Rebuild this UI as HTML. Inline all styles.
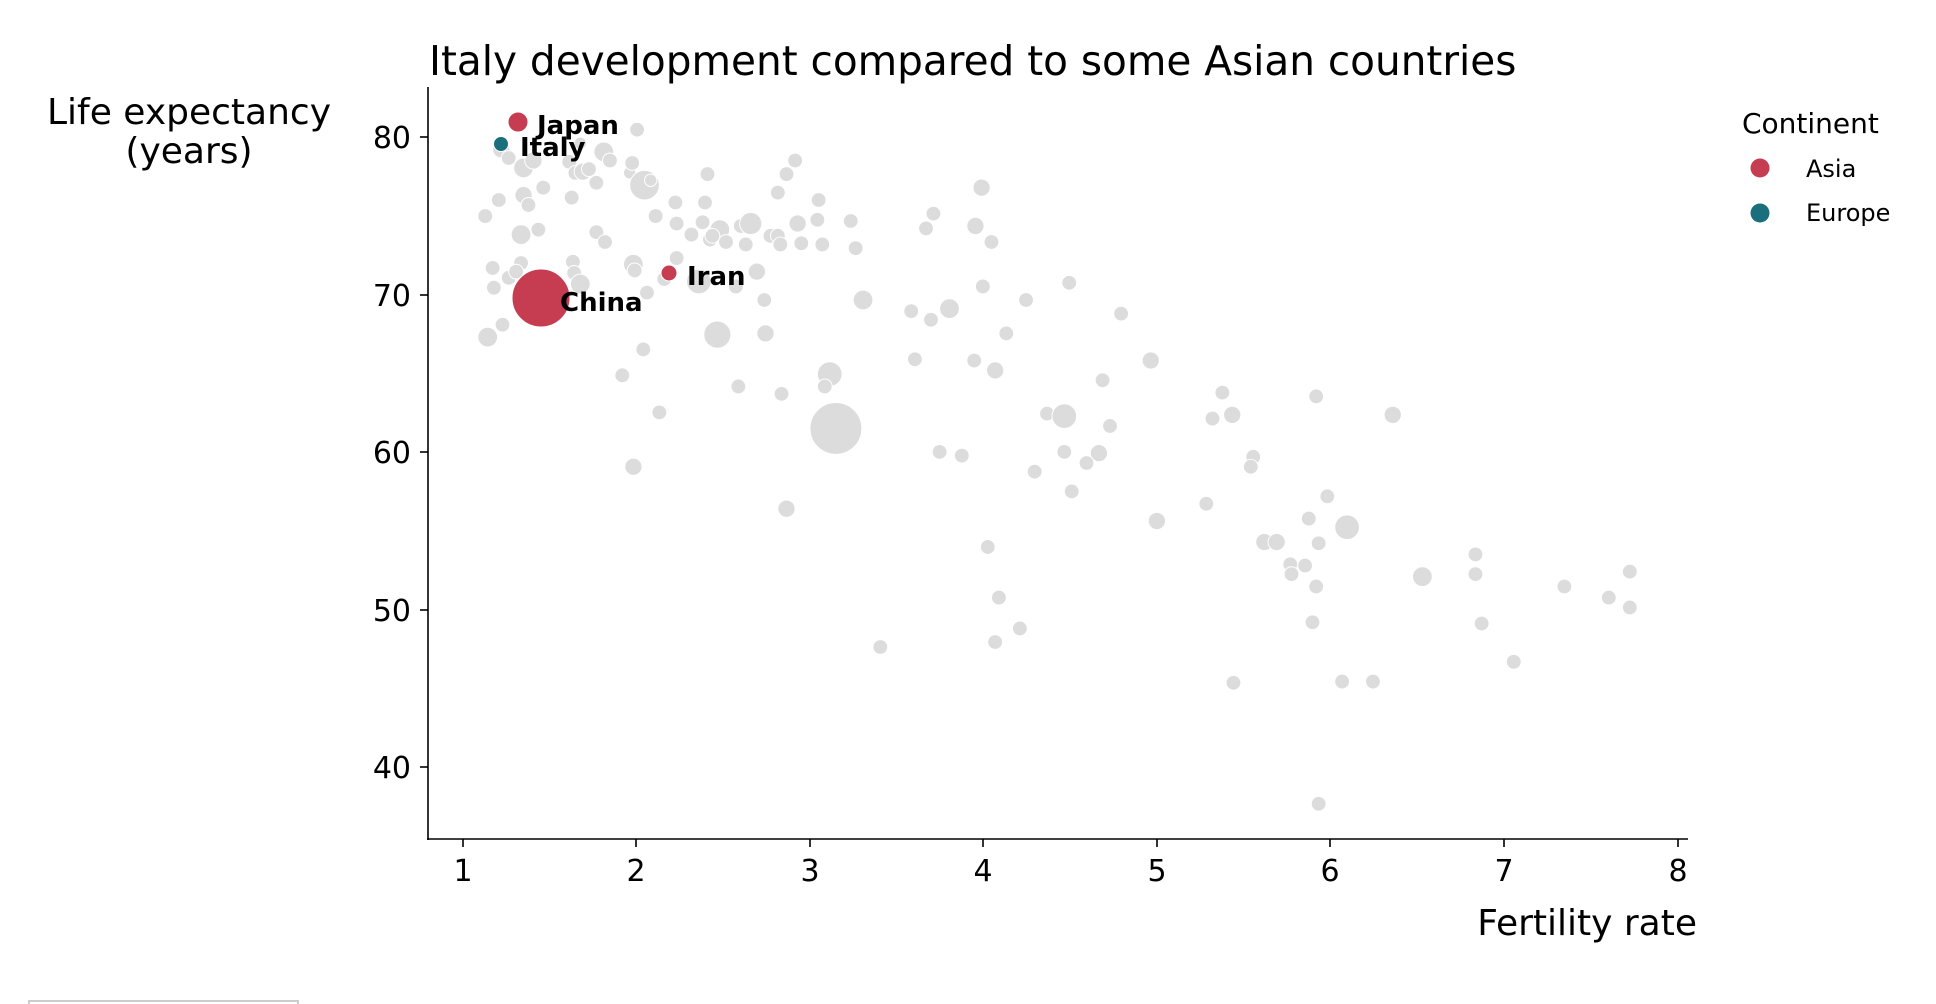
<!DOCTYPE html>
<html><head><meta charset="utf-8"><style>
html,body{margin:0;padding:0;background:#fff;width:1936px;height:1004px;overflow:hidden}
svg{display:block;font-family:"DejaVu Sans","Liberation Sans",sans-serif}
</style></head><body>
<svg width="1936" height="1004" viewBox="0 0 1936 1004">
<text x="429" y="75" font-size="40.6" fill="#000">Italy development compared to some Asian countries</text>
<text x="189" y="124" font-size="36" text-anchor="middle">Life expectancy</text>
<text x="189" y="163" font-size="36" text-anchor="middle">(years)</text>
<g fill="#dcdcdc" stroke="#fff" stroke-width="0.8" transform="scale(1.2347)">
<circle cx="516" cy="105" r="6"/><circle cx="406" cy="121" r="7"/><circle cx="412" cy="128" r="6"/><circle cx="424" cy="136" r="8"/><circle cx="432" cy="130" r="7"/><circle cx="470" cy="116" r="5"/><circle cx="489" cy="123" r="8"/><circle cx="494" cy="130" r="6"/><circle cx="461" cy="131" r="6"/><circle cx="466" cy="140" r="6"/><circle cx="472" cy="139" r="7"/><circle cx="477" cy="137" r="6"/><circle cx="483" cy="148" r="6"/><circle cx="510" cy="140" r="5"/><circle cx="512" cy="132" r="6"/><circle cx="522" cy="150" r="12"/><circle cx="527" cy="146" r="5"/><circle cx="573" cy="141" r="6"/><circle cx="644" cy="130" r="6"/><circle cx="637" cy="141" r="6"/><circle cx="404" cy="162" r="6"/><circle cx="424" cy="158" r="7"/><circle cx="428" cy="166" r="6"/><circle cx="440" cy="152" r="6"/><circle cx="463" cy="160" r="6"/><circle cx="547" cy="164" r="6"/><circle cx="571" cy="164" r="6"/><circle cx="630" cy="156" r="6"/><circle cx="663" cy="162" r="6"/><circle cx="795" cy="152" r="7"/><circle cx="393" cy="175" r="6"/><circle cx="531" cy="175" r="6"/><circle cx="548" cy="181" r="6"/><circle cx="569" cy="180" r="6"/><circle cx="583" cy="186" r="8"/><circle cx="600" cy="183" r="6"/><circle cx="608" cy="181" r="9"/><circle cx="646" cy="181" r="7"/><circle cx="662" cy="178" r="6"/><circle cx="689" cy="179" r="6"/><circle cx="756" cy="173" r="6"/><circle cx="750" cy="185" r="6"/><circle cx="790" cy="183" r="7"/><circle cx="803" cy="196" r="6"/><circle cx="422" cy="190" r="8"/><circle cx="436" cy="186" r="6"/><circle cx="483" cy="188" r="6"/><circle cx="490" cy="196" r="6"/><circle cx="560" cy="190" r="6"/><circle cx="575" cy="194" r="6"/><circle cx="577" cy="191" r="6"/><circle cx="588" cy="196" r="6"/><circle cx="604" cy="198" r="6"/><circle cx="624" cy="191" r="6"/><circle cx="630" cy="191" r="6"/><circle cx="632" cy="198" r="6"/><circle cx="649" cy="197" r="6"/><circle cx="666" cy="198" r="6"/><circle cx="693" cy="201" r="6"/><circle cx="548" cy="209" r="6"/><circle cx="513" cy="214" r="8"/><circle cx="464" cy="212" r="6"/><circle cx="422" cy="213" r="6"/><circle cx="399" cy="217" r="6"/><circle cx="412" cy="225" r="6"/><circle cx="418" cy="220" r="6"/><circle cx="465" cy="221" r="6"/><circle cx="470" cy="230" r="8"/><circle cx="400" cy="233" r="6"/><circle cx="538" cy="226" r="6"/><circle cx="514" cy="219" r="6"/><circle cx="566" cy="228" r="10"/><circle cx="524" cy="237" r="6"/><circle cx="613" cy="220" r="7"/><circle cx="596" cy="232" r="6"/><circle cx="619" cy="243" r="6"/><circle cx="699" cy="243" r="8"/><circle cx="796" cy="232" r="6"/><circle cx="866" cy="229" r="6"/><circle cx="407" cy="263" r="6"/><circle cx="395" cy="273" r="8"/><circle cx="581" cy="271" r="11"/><circle cx="620" cy="270" r="7"/><circle cx="738" cy="252" r="6"/><circle cx="754" cy="259" r="6"/><circle cx="769" cy="250" r="8"/><circle cx="831" cy="243" r="6"/><circle cx="908" cy="254" r="6"/><circle cx="815" cy="270" r="6"/><circle cx="521" cy="283" r="6"/><circle cx="672" cy="303" r="10"/><circle cx="668" cy="313" r="6"/><circle cx="598" cy="313" r="6"/><circle cx="633" cy="319" r="6"/><circle cx="741" cy="291" r="6"/><circle cx="789" cy="292" r="6"/><circle cx="806" cy="300" r="7"/><circle cx="893" cy="308" r="6"/><circle cx="932" cy="292" r="7"/><circle cx="504" cy="304" r="6"/><circle cx="534" cy="334" r="6"/><circle cx="677" cy="347" r="21"/><circle cx="761" cy="366" r="6"/><circle cx="779" cy="369" r="6"/><circle cx="848" cy="335" r="6"/><circle cx="862" cy="337" r="10"/><circle cx="899" cy="345" r="6"/><circle cx="862" cy="366" r="6"/><circle cx="890" cy="367" r="7"/><circle cx="880" cy="375" r="6"/><circle cx="838" cy="382" r="6"/><circle cx="868" cy="398" r="6"/><circle cx="513" cy="378" r="7"/><circle cx="637" cy="412" r="7"/><circle cx="937" cy="422" r="7"/><circle cx="977" cy="408" r="6"/><circle cx="990" cy="318" r="6"/><circle cx="982" cy="339" r="6"/><circle cx="998" cy="336" r="7"/><circle cx="1015" cy="370" r="6"/><circle cx="1013" cy="378" r="6"/><circle cx="1066" cy="321" r="6"/><circle cx="1128" cy="336" r="7"/><circle cx="1075" cy="402" r="6"/><circle cx="1060" cy="420" r="6"/><circle cx="1091" cy="427" r="10"/><circle cx="1024" cy="439" r="7"/><circle cx="1034" cy="439" r="7"/><circle cx="1068" cy="440" r="6"/><circle cx="1045" cy="457" r="6"/><circle cx="1057" cy="458" r="6"/><circle cx="1046" cy="465" r="6"/><circle cx="1066" cy="475" r="6"/><circle cx="1063" cy="504" r="6"/><circle cx="800" cy="443" r="6"/><circle cx="809" cy="484" r="6"/><circle cx="806" cy="520" r="6"/><circle cx="826" cy="509" r="6"/><circle cx="713" cy="524" r="6"/><circle cx="999" cy="553" r="6"/><circle cx="1087" cy="552" r="6"/><circle cx="1112" cy="552" r="6"/><circle cx="1152" cy="467" r="8"/><circle cx="1195" cy="449" r="6"/><circle cx="1195" cy="465" r="6"/><circle cx="1200" cy="505" r="6"/><circle cx="1226" cy="536" r="6"/><circle cx="1267" cy="475" r="6"/><circle cx="1303" cy="484" r="6"/><circle cx="1320" cy="463" r="6"/><circle cx="1320" cy="492" r="6"/><circle cx="1068" cy="651" r="6"/>
</g>
<g stroke="#fff" stroke-width="1">
<circle cx="541" cy="298" r="29" fill="#c63d51"/>
<circle cx="518" cy="122" r="10" fill="#c63d51"/>
<circle cx="669" cy="273" r="8" fill="#c63d51"/>
<circle cx="501" cy="144" r="7.5" fill="#1b6f7d"/>
</g>
<g font-weight="bold" font-size="26">
<text x="537" y="134">Japan</text>
<text x="520" y="156">Italy</text>
<text x="687" y="285">Iran</text>
<text x="560" y="311">China</text>
</g>
<g stroke="#000" stroke-width="1.6" fill="none">
<line x1="428" y1="87" x2="428" y2="840"/>
<line x1="427" y1="839" x2="1688" y2="839"/>
<line x1="420" y1="137" x2="428" y2="137"/>
<line x1="420" y1="295" x2="428" y2="295"/>
<line x1="420" y1="452" x2="428" y2="452"/>
<line x1="420" y1="610" x2="428" y2="610"/>
<line x1="420" y1="767" x2="428" y2="767"/>
<line x1="463" y1="839" x2="463" y2="847"/>
<line x1="636" y1="839" x2="636" y2="847"/>
<line x1="810" y1="839" x2="810" y2="847"/>
<line x1="983" y1="839" x2="983" y2="847"/>
<line x1="1157" y1="839" x2="1157" y2="847"/>
<line x1="1330" y1="839" x2="1330" y2="847"/>
<line x1="1504" y1="839" x2="1504" y2="847"/>
<line x1="1678" y1="839" x2="1678" y2="847"/>
</g>
<g font-size="30" text-anchor="end">
<text x="411" y="148">80</text>
<text x="411" y="306">70</text>
<text x="411" y="463">60</text>
<text x="411" y="621">50</text>
<text x="411" y="778">40</text>
</g>
<g font-size="30" text-anchor="middle">
<text x="463" y="881">1</text><text x="636" y="881">2</text><text x="810" y="881">3</text><text x="983" y="881">4</text>
<text x="1157" y="881">5</text><text x="1330" y="881">6</text><text x="1504" y="881">7</text><text x="1678" y="881">8</text>
</g>
<text x="1697" y="935" font-size="36" text-anchor="end">Fertility rate</text>
<text x="1742" y="133" font-size="28">Continent</text>
<circle cx="1760" cy="168" r="9.5" fill="#c63d51"/>
<circle cx="1760" cy="213" r="9.5" fill="#1b6f7d"/>
<text x="1806" y="177" font-size="24">Asia</text>
<text x="1806" y="221" font-size="24">Europe</text>
<rect x="29" y="1001" width="269" height="10" fill="#fff" stroke="#ccc" stroke-width="2"/>
</svg>
</body></html>
